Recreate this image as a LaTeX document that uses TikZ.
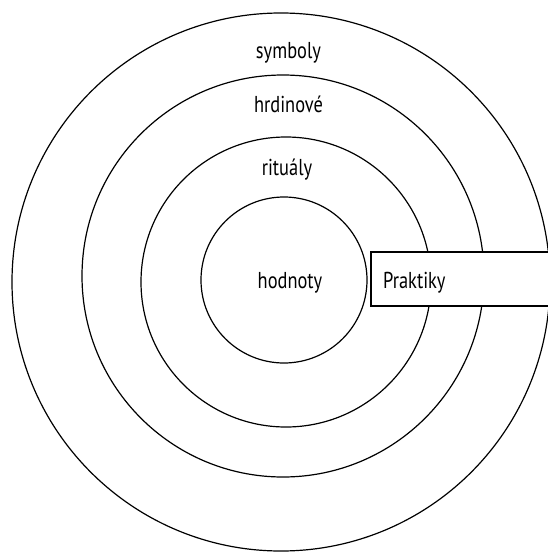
\documentclass[tikz,border=0pt]{standalone}
\usepackage{fontspec}
\setmainfont[FakeStretch=0.8]{PT Sans}
\begin{document}
\begin{tikzpicture}[x=1pt,y=-1pt,
  ring/.style={draw=black,line width=1.2pt},
  lbl/.style={inner sep=0pt,anchor=base,font=\fontsize{23}{26}\selectfont},
  box/.style={draw=black,line width=1.2pt,fill=white}]
\useasboundingbox (0,0) rectangle (548,552);
\clip (0,0) rectangle (548,552);
\fill[white] (0,0) rectangle (548,552);
\draw[ring] (281,282) circle[radius=269];
\draw[ring] (283,276) circle[radius=201];
\draw[ring] (286,282) circle[radius=145];
\draw[ring] (284,280) circle[radius=83];
\draw[box] (371,252) rectangle (580,306);
\node[lbl] (symboly) at (288.5,58) {symboly};
\node[lbl] (hrdinove) at (288.5,112) {hrdinové};
\node[lbl] (ritualy) at (287,175) {rituály};
\node[lbl] (hodnoty) at (290,288) {hodnoty};
\node[lbl,anchor=base west] (praktiky) at (383,288) {Praktiky};
\end{tikzpicture}
\end{document}
